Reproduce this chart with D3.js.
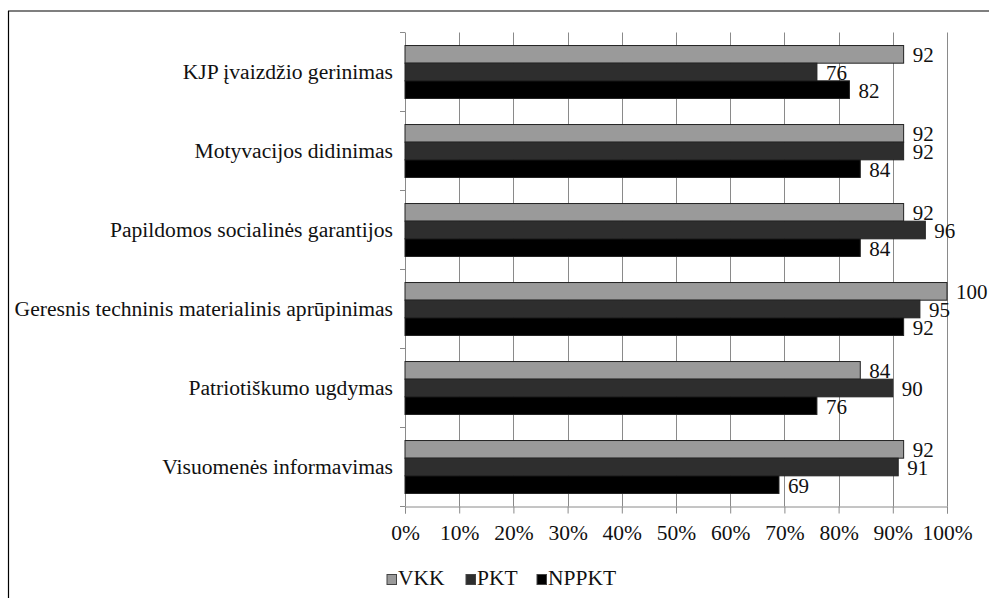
<!DOCTYPE html>
<html>
<head>
<meta charset="utf-8">
<script src="https://cdn.jsdelivr.net/npm/d3@7"></script>
<style>
  body { margin: 0; background: #fff; }
</style>
</head>
<body>
<div id="chart"></div>
<script>
var categories = [
  "KJP įvaizdžio gerinimas",
  "Motyvacijos didinimas",
  "Papildomos socialinės garantijos",
  "Geresnis techninis materialinis aprūpinimas",
  "Patriotiškumo ugdymas",
  "Visuomenės informavimas"
];
var seriesNames = ["VKK", "PKT", "NPPKT"];
var vkk   = [92, 92, 92, 100, 84, 92];
var pkt   = [76, 92, 96, 95, 90, 91];
var nppkt = [82, 84, 84, 92, 76, 69];
var tickValues = [0, 10, 20, 30, 40, 50, 60, 70, 80, 90, 100];

var colors = ["#9a9a9a", "#2e2e2e", "#000000"];
var values = [vkk, pkt, nppkt];
var serif = "Liberation Serif";

var width = 989, height = 598;
var plotLeft = 405, plotRight = 947, plotTop = 32.5, plotBottom = 506.5;

var svg = d3.select("#chart").append("svg")
    .attr("width", width)
    .attr("height", height);

// outer frame (top + left only visible)
svg.append("line").attr("x1", 8).attr("x2", width).attr("y1", 11).attr("y2", 11)
    .attr("stroke", "#000").attr("stroke-width", 1.2);
svg.append("line").attr("x1", 8.5).attr("x2", 8.5).attr("y1", 11).attr("y2", height)
    .attr("stroke", "#000").attr("stroke-width", 1.2);

var x = d3.scaleLinear().domain([0, 100]).range([plotLeft, plotRight]);
var y = d3.scaleBand().domain(categories).range([plotTop, plotBottom]).paddingInner(0.33).paddingOuter(0.165);
var ySub = d3.scaleBand().domain(seriesNames).range([0, y.bandwidth()]);

// grid
svg.append("g").selectAll("line").data(tickValues.slice(1)).join("line")
    .attr("x1", d => Math.round(x(d)) + 0.5).attr("x2", d => Math.round(x(d)) + 0.5)
    .attr("y1", plotTop).attr("y2", plotBottom)
    .attr("stroke", "#8a8a8a").attr("stroke-width", 1);

// x axis
var xAxis = svg.append("g")
    .attr("transform", "translate(0," + plotBottom + ")")
    .call(d3.axisBottom(x).tickValues(tickValues).tickSize(7).tickPadding(11)
        .tickFormat(d => d + "%"));
xAxis.select(".domain").attr("stroke", "#8a8a8a");
xAxis.selectAll(".tick line").attr("stroke", "#8a8a8a");
xAxis.selectAll("text").style("font-size", "21.5px").attr("fill", "#111")
    .style("font-family", serif);

// y axis line with boundary ticks
var boundaries = d3.range(categories.length + 1).map(i => plotTop + i * y.step());
svg.append("line").attr("x1", plotLeft + 0.5).attr("x2", plotLeft + 0.5)
    .attr("y1", plotTop).attr("y2", plotBottom).attr("stroke", "#8a8a8a");
svg.append("g").selectAll("line").data(boundaries).join("line")
    .attr("x1", plotLeft - 5).attr("x2", plotLeft)
    .attr("y1", d => d).attr("y2", d => d)
    .attr("stroke", "#8a8a8a");

// category labels
svg.append("g").selectAll("text").data(categories).join("text")
    .attr("x", 393)
    .attr("y", d => y(d) + y.bandwidth() / 2 + 7)
    .attr("text-anchor", "end")
    .attr("fill", "#111")
    .style("font-family", serif)
    .style("font-size", "21.6px")
    .text(d => d);

// bars
seriesNames.forEach(function(s, si) {
  var g = svg.append("g");
  g.selectAll("rect").data(categories).join("rect")
      .attr("x", plotLeft)
      .attr("y", d => y(d) + ySub(s))
      .attr("width", (d, i) => x(values[si][i]) - plotLeft)
      .attr("height", ySub.bandwidth())
      .attr("fill", colors[si])
      .attr("stroke", "#222")
      .attr("stroke-width", 1);
  g.selectAll("text").data(categories).join("text")
      .attr("x", (d, i) => x(values[si][i]) + 9)
      .attr("y", d => y(d) + ySub(s) + ySub.bandwidth() / 2 + 8)
      .attr("fill", "#111")
      .style("font-family", serif)
      .style("font-size", "21px")
      .text((d, i) => values[si][i]);
});

// legend
var legendX = [387, 466, 537];
var legend = svg.append("g");
seriesNames.forEach(function(s, i) {
  legend.append("rect")
      .attr("x", legendX[i]).attr("y", 574.5)
      .attr("width", 9.5).attr("height", 10)
      .attr("fill", colors[i]).attr("stroke", "#444").attr("stroke-width", 1);
  legend.append("text")
      .attr("x", legendX[i] + 11).attr("y", 585)
      .attr("fill", "#111")
      .style("font-family", serif)
      .style("font-size", "21.5px")
      .text(s);
});
</script>
</body>
</html>
